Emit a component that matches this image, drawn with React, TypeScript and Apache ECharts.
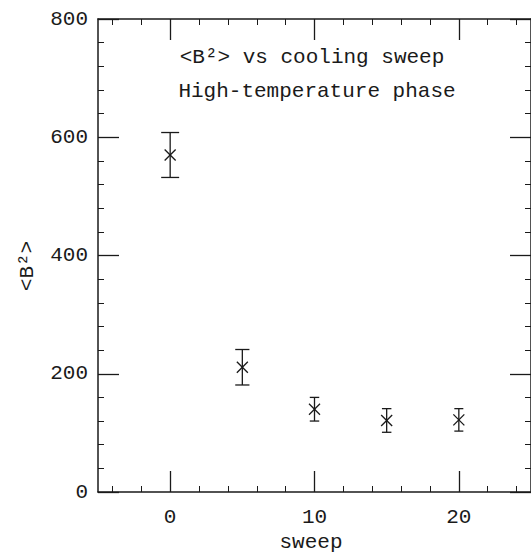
import React, { useEffect, useRef } from "react";
import * as echarts from "echarts";

const sweeps = [0, 5, 10, 15, 20];
const b2Mean = [570, 211, 140, 121, 122];
const b2Err = [38, 30, 20, 20, 19];
const xMajorTicks = [0, 10, 20];
const xRange = [-5, 25];
const yRange = [0, 800];
const yStep = 200;
const titleLines = ["<B²> vs cooling sweep", "High-temperature phase"];
const xName = "sweep";
const yName = "<B²>";

const FONT = '"Liberation Mono", "Courier New", monospace';
const INK = "#1a1a1a";

export default function App() {
  const ref = useRef<HTMLDivElement>(null);

  useEffect(() => {
    if (!ref.current) return;
    const chart = echarts.init(ref.current, null, { renderer: "svg" });

    const xMinor: number[] = [];
    for (let v = -4; v <= 24; v += 2) {
      if (v % 10 !== 0) xMinor.push(v);
    }

    const data = sweeps.map((s, i) => [s, b2Mean[i], b2Err[i]]);

    const axisLine = { show: true, onZero: false, lineStyle: { color: INK, width: 1.5 } };

    const mkX = (position: "bottom" | "top", major: boolean, labels: boolean) => ({
      type: "value",
      gridIndex: 0,
      position,
      min: xRange[0],
      max: xRange[1],
      axisLine: major ? axisLine : { show: false, onZero: false },
      splitLine: { show: false },
      axisTick: {
        show: true,
        inside: true,
        length: major ? 21 : 6,
        customValues: major ? xMajorTicks : xMinor,
        lineStyle: { color: INK, width: major ? 1.3 : 1 },
      },
      axisLabel: labels
        ? {
            show: true,
            customValues: xMajorTicks,
            margin: 15,
            color: INK,
            fontFamily: FONT,
            fontSize: 21,
          }
        : { show: false },
    });

    const mkY = (position: "left" | "right", labels: boolean) => ({
      type: "value",
      gridIndex: 0,
      position,
      min: yRange[0],
      max: yRange[1],
      interval: yStep,
      axisLine,
      splitLine: { show: false },
      axisTick: {
        show: true,
        inside: true,
        length: 21,
        lineStyle: { color: INK, width: 1.3 },
      },
      minorTick: {
        show: true,
        splitNumber: 5,
        length: 6,
        lineStyle: { color: INK, width: 1 },
      },
      minorSplitLine: { show: false },
      axisLabel: labels
        ? {
            show: true,
            margin: 10,
            color: INK,
            fontFamily: FONT,
            fontSize: 21,
          }
        : { show: false },
    });

    const option: any = {
      animation: false,
      backgroundColor: "#ffffff",
      grid: { left: 98, top: 19, width: 438, height: 473, containLabel: false },
      xAxis: [
        mkX("bottom", true, true),
        mkX("bottom", false, false),
        mkX("top", true, false),
        mkX("top", false, false),
      ],
      yAxis: [mkY("left", true), mkY("right", false)],
      series: [
        {
          type: "custom",
          xAxisIndex: 0,
          yAxisIndex: 0,
          data,
          clip: false,
          renderItem: (params: any, api: any) => {
            const x = api.value(0);
            const y = api.value(1);
            const e = api.value(2);
            const p = api.coord([x, y]);
            const top = api.coord([x, y + e]);
            const bot = api.coord([x, y - e]);
            const cap = Math.max(9, 0.4 * (bot[1] - top[1])) / 2;
            const arm = 5.5;
            const style = { stroke: INK, lineWidth: 1.3, fill: "none" };
            return {
              type: "group",
              children: [
                { type: "line", shape: { x1: p[0], y1: top[1], x2: p[0], y2: bot[1] }, style },
                { type: "line", shape: { x1: p[0] - cap, y1: top[1], x2: p[0] + cap, y2: top[1] }, style },
                { type: "line", shape: { x1: p[0] - cap, y1: bot[1], x2: p[0] + cap, y2: bot[1] }, style },
                { type: "line", shape: { x1: p[0] - arm, y1: p[1] - arm, x2: p[0] + arm, y2: p[1] + arm }, style },
                { type: "line", shape: { x1: p[0] - arm, y1: p[1] + arm, x2: p[0] + arm, y2: p[1] - arm }, style },
              ],
            };
          },
        },
      ],
      graphic: [
        {
          type: "text",
          x: 312,
          y: 57,
          style: {
            text: titleLines[0],
            fill: INK,
            font: `21px ${FONT}`,
            textAlign: "center",
            textVerticalAlign: "middle",
          },
        },
        {
          type: "text",
          x: 317,
          y: 91,
          style: {
            text: titleLines[1],
            fill: INK,
            font: `21px ${FONT}`,
            textAlign: "center",
            textVerticalAlign: "middle",
          },
        },
        {
          type: "text",
          x: 311,
          y: 542,
          style: {
            text: xName,
            fill: INK,
            font: `21px ${FONT}`,
            textAlign: "center",
            textVerticalAlign: "middle",
          },
        },
        {
          type: "text",
          x: 27,
          y: 266,
          rotation: Math.PI / 2,
          style: {
            text: yName,
            fill: INK,
            font: `21px ${FONT}`,
            textAlign: "center",
            textVerticalAlign: "middle",
          },
        },
      ],
    };

    chart.setOption(option);
    return () => chart.dispose();
  }, []);

  return (
    <div
      ref={ref}
      style={{ position: "fixed", left: 0, top: 0, width: 531, height: 556, background: "#fff" }}
    />
  );
}
